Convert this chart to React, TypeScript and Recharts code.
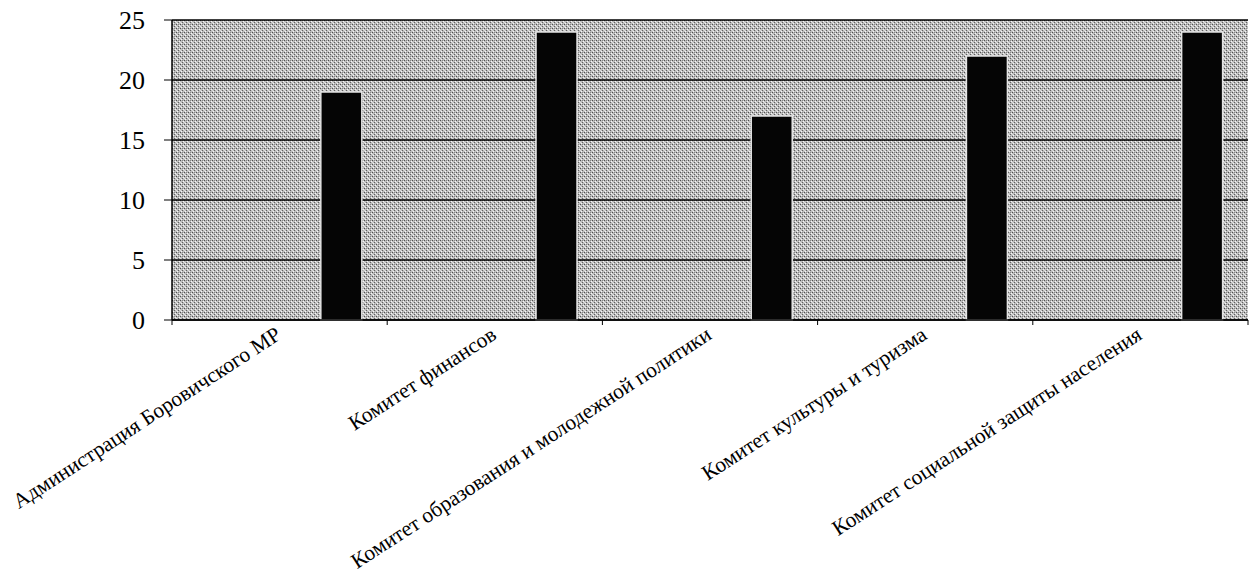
import React from 'react';
import {
  BarChart,
  Bar,
  XAxis,
  YAxis,
  CartesianGrid,
} from 'recharts';

const categories = [
  'Администрация Боровичского МР',
  'Комитет финансов',
  'Комитет образования и молодежной политики',
  'Комитет культуры и туризма',
  'Комитет социальной защиты населения',
];
const values = [19, 24, 17, 22, 24];
const yTicks = [0, 5, 10, 15, 20, 25];

const data = categories.map((name, i) => ({ name, value: values[i] }));

const W = 1256;
const H = 579;
const LEFT = 172;
const RIGHT = 8;
const BAND = (W - LEFT - RIGHT) / categories.length;
const FONT = 'Liberation Serif';

// category names sit below the axis, rotated, ending under the centre of the band
function CategoryTick(props: any) {
  const { x, y, payload } = props;
  const left = x - BAND / 2;
  return (
    <g>
      <line x1={left} y1={y - 8} x2={left} y2={y - 3} stroke="#000" strokeWidth={1} />
      {payload.index === categories.length - 1 && (
        <line x1={x + BAND / 2} y1={y - 8} x2={x + BAND / 2} y2={y - 3} stroke="#000" strokeWidth={1} />
      )}
      <text
        x={0}
        y={0}
        transform={`translate(${x + 3}, ${y + 10}) rotate(-33)`}
        textAnchor="end"
        fontFamily={FONT}
        fontSize={21.5}
        fill="#000"
      >
        {payload.value}
      </text>
    </g>
  );
}

function ValueTick(props: any) {
  const { x, y, payload } = props;
  return (
    <text
      x={x}
      y={y}
      dy={9}
      textAnchor="end"
      fontFamily={FONT}
      fontSize={26}
      fill="#000"
    >
      {payload.value}
    </text>
  );
}

export default function App() {
  return (
    <div style={{ position: 'absolute', left: 0, top: 0, background: '#fff' }}>
      <BarChart
        width={W}
        height={H}
        data={data}
        margin={{ top: 20, right: RIGHT, left: 0, bottom: 0 }}
        barCategoryGap="12%"
        barGap={0}
      >
        <defs>
          <pattern id="dither" width="4" height="4" patternUnits="userSpaceOnUse">
            <rect width="4" height="4" fill="#bdbdbd" />
            <rect x="0" y="0" width="1" height="1" fill="#505050" />
            <rect x="2" y="2" width="1" height="1" fill="#606060" />
            <rect x="1" y="3" width="1" height="1" fill="#f6f6f6" />
            <rect x="3" y="1" width="1" height="1" fill="#f6f6f6" />
            <rect x="2" y="0" width="1" height="1" fill="#888" />
            <rect x="0" y="2" width="1" height="1" fill="#dcdcdc" />
          </pattern>
        </defs>
        <CartesianGrid
          vertical={false}
          stroke="#000"
          strokeWidth={1.5}
          fill="url(#dither)"
          fillOpacity={1}
        />
        <XAxis
          dataKey="name"
          interval={0}
          height={H - 320}
          axisLine={{ stroke: '#000', strokeWidth: 1.5 }}
          tickLine={false}
          tick={<CategoryTick />}
        />
        <YAxis
          domain={[0, 25]}
          ticks={yTicks}
          width={LEFT}
          tickSize={8}
          tickMargin={19}
          axisLine={{ stroke: '#000', strokeWidth: 1.5 }}
          tickLine={{ stroke: '#000' }}
          tick={<ValueTick />}
        />
        <YAxis
          yAxisId="right"
          orientation="right"
          width={0}
          tick={false}
          tickLine={false}
          axisLine={{ stroke: '#000', strokeWidth: 1.5 }}
        />
        {/* three empty series as in the source chart, so the bar sits at the right of each band */}
        <Bar dataKey="empty1" isAnimationActive={false} />
        <Bar dataKey="empty2" isAnimationActive={false} />
        <Bar dataKey="empty3" isAnimationActive={false} />
        <Bar
          dataKey="value"
          fill="#050505"
          stroke="#e4e4e4"
          strokeWidth={1.5}
          isAnimationActive={false}
        />
      </BarChart>
    </div>
  );
}
